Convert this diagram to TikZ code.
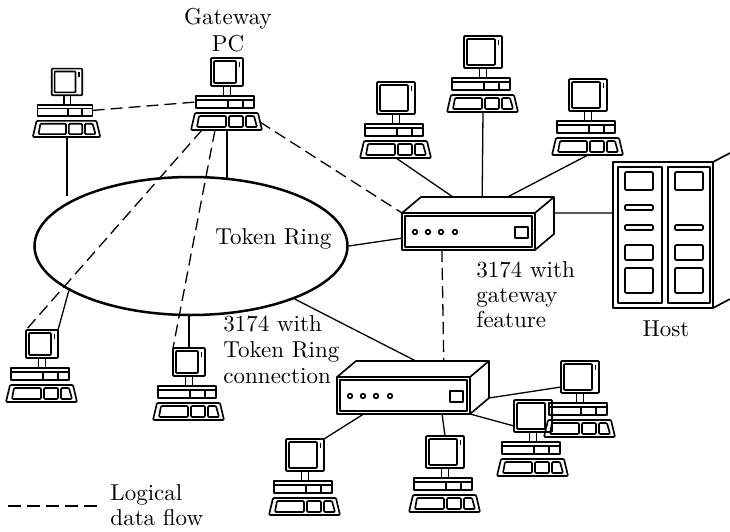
\documentclass[tikz,border=0pt]{standalone}
\usetikzlibrary{calc,shapes.geometric}
% workstation icon: #1 = half width of the monitor, #2 = height of its top edge
\newcommand\wsicon[2]{%
  \draw[icon,rounded corners=0.8pt] (-#1,-#2) rectangle (#1,-44);
  \draw[icon,rounded corners=0.8pt] ($(-#1,-#2)+(3,3)$) rectangle ($(#1,-44)+(-7,-3)$);
  \draw[icon] ($(#1,-#2)+(-3.5,4)$) -- ($(#1,-#2)+(-3.5,9)$);
  \draw[icon] (-3.5,-44) -- (-3.5,-35) (3.5,-44) -- (3.5,-35);
  \draw[icon] (-31,-34) rectangle (27,-22);
  \draw[icon] (-31,-30) -- (27,-30);
  \draw[icon] (1,-30) -- (1,-22) (16,-30) -- (16,-22);
  \draw[icon,rounded corners=1pt] (-32,-17) -- (31,-17) -- (35,0) -- (-36,0) -- cycle;
  \draw[icon,rounded corners=1pt] (-28,-14) -- (-1,-14) -- (-1,-3) -- (-30,-3) -- cycle;
  \draw[icon,rounded corners=1pt] (2,-14) -- (16,-14) -- (16,-3) -- (2,-3) -- cycle;
  \draw[icon,rounded corners=1pt] (19,-14) -- (27,-14) -- (30,-3) -- (19,-3) -- cycle;
  \coordinate (-top) at (0,-#2);
  \coordinate (-tl) at (-#1,-#2);
  \coordinate (-tr) at (#1,-#2);
  \coordinate (-ml) at (-#1,-50);
  \coordinate (-bot) at (0,0);
  \coordinate (-b1) at (-25,0);
  \coordinate (-b2) at (-12,0);
  \coordinate (-sl) at (-31,-28);
  \coordinate (-sr) at (27,-28);
  \coordinate (-kr) at (33,-8);
}
\begin{document}
\begin{tikzpicture}[x=1pt,y=-1pt,
  icon/.style={line width=1.65pt, line join=round},
  link/.style={line width=1.3pt},
  flow/.style={line width=1.3pt, dash pattern=on 12pt off 6pt},
  lbl/.style={scale=2.3, inner sep=0pt, anchor=base west},
  lblc/.style={scale=2.3, inner sep=0pt, anchor=base},
  pics/pc/.style={code={\wsicon{16}{72}}},
  pics/pcwide/.style={code={\wsicon{19}{76}}},
  pics/ctrl/.style={code={
    % front face with bevel, top face and side face
    \draw[icon] (0,0) rectangle (133,37);
    \draw[icon] (3,3) rectangle (130,34);
    \draw[icon] (0,0) -- (19,-16) -- (152,-16) -- (133,0);
    \draw[icon] (152,-16) -- (152,21) -- (133,37);
    \foreach \lx in {13,26,39,53} \draw[icon] (\lx,19) circle [radius=2.3];
    \draw[icon] (113,14) rectangle (126,25);
    \coordinate (-tl) at (0,0);
    \coordinate (-bl) at (0,37);
    \coordinate (-br) at (133,37);
    \coordinate (-btl) at (19,-16);
    \coordinate (-btr) at (152,-16);
    \coordinate (-sbr) at (152,21);
  }}
]
\useasboundingbox (0,0) rectangle (730,532);

% Token Ring
\node[draw, ellipse, line width=2.5pt, inner sep=0pt,
      minimum width=313pt, minimum height=138pt] (ring) at (191,246) {};
\node[lbl] (ringlbl) at (215,244) {Token Ring};

% workstations
\pic[scale=0.95] (pA) at (67,137) {pc};
\pic (pGW) at (227,130) {pc};
\pic (pB) at (396,158) {pcwide};
\pic (pC) at (483,112) {pcwide};
\pic (pD) at (588,155) {pcwide};
\pic (pE) at (42,402) {pc};
\pic (pF) at (189,420) {pc};
\pic (pG) at (580,437) {pcwide};
\pic (pH) at (533,476) {pcwide};
\pic (pI) at (445,512) {pcwide};
\pic (pJ) at (305,515) {pcwide};

% 3174 control units
\pic (boxT) at (402,213) {ctrl};
\pic (boxB) at (337,377) {ctrl};

% Host
\draw[icon] (613,162) rectangle (713,308);
\draw[icon] (713,162) -- (730,153);
\draw[icon] (713,308) -- (730,299);
\draw[icon] (618,167) rectangle (662,303);
\draw[icon] (668,167) rectangle (710,303);
\foreach \ya/\yb in {172/190,205/210,225/230,245/260,268/293}
  \draw[icon,rounded corners=1pt] (625,\ya) rectangle (653,\yb);
\foreach \ya/\yb in {172/190,225/230,245/260,268/293}
  \draw[icon,rounded corners=1pt] (675,\ya) rectangle (703,\yb);
\coordinate (hostW) at (613,213);
\node[lblc] (hostlbl) at (666,336) {Host};

% labels
\node[lblc] (gw1) at (228,25) {Gateway};
\node[lblc] (gw2) at (228,52) {PC};
\node[lbl] (ct1) at (476,277) {3174 with};
\node[lbl] (ct2) at (476,302) {gateway};
\node[lbl] (ct3) at (476,327) {feature};
\node[lbl] (cb1) at (223,331) {3174 with};
\node[lbl] (cb2) at (223,357) {Token Ring};
\node[lbl] (cb3) at (223,383) {connection};

% physical links
\draw[link] (pA-bot) -- (pA-bot |- ring.156);
\draw[link] (pGW-bot) -- (pGW-bot |- ring.58);
\draw[link] (ring.east) -- ($(boxT-tl)!0.68!(boxT-bl)$);
\draw[link] (ring) -- ($(boxB-btl)!0.45!(boxB-btr)$);
\draw[link] (ring.200) -- (pE-tr);
\draw[link] (pF-top) -- (pF-top |- ring.south);
\draw[link] (pB-bot) -- ($(boxT-btl)!0.24!(boxT-btr)$);
\draw[link] (pC-bot) -- ($(boxT-btl)!0.46!(boxT-btr)$);
\draw[link] (pD-bot) -- ($(boxT-btl)!0.65!(boxT-btr)$);
\draw[link] ($(boxT-btr)!0.43!(boxT-sbr)$) -- (hostW);
\draw[link] ($(boxB-bl)!0.2!(boxB-br)$) -- (pJ-tr);
\draw[link] ($(boxB-bl)!0.79!(boxB-br)$) -- (pI-top);
\draw[link] (boxB-br) -- (pH-ml);
\draw[link] (boxB-sbr) -- (pG-ml);

% logical data flow
\draw[flow] (pA-sr) -- (pGW-sl);
\draw[flow] (pGW-kr) -- (boxT-tl);
\draw[flow] ($(boxT-bl)!0.3!(boxT-br)$) -- ($(boxB-btl)!0.66!(boxB-btr)$);
\draw[flow] (pGW-b1) -- (pE-tl);
\draw[flow] (pGW-b2) -- (pF-tl);

% legend
\coordinate (lg1) at (8,506);
\coordinate (lg2) at (100,506);
\draw[flow, dash pattern=on 13pt off 6pt] (lg1) -- (lg2);
\node[lbl] (lg3) at (110,500) {Logical};
\node[lbl] (lg4) at (110,525) {data flow};
\end{tikzpicture}
\end{document}
